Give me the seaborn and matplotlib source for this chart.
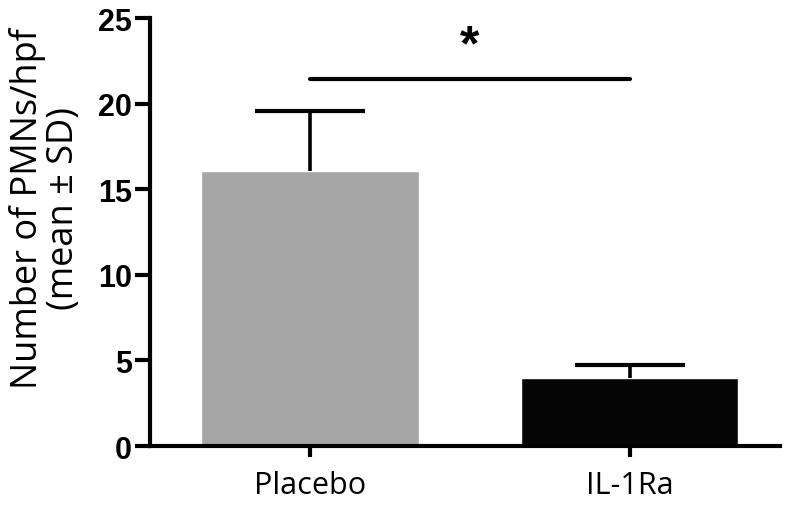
import pandas as pd
import seaborn as sns
import matplotlib.pyplot as plt

# data
groups = ["Placebo", "IL-1Ra"]
means = [16.05, 3.97]
sds = [3.55, 0.77]
bar_colors = ["#a6a6a6", "#050505"]
sig_y = 21.45
sig_label = "*"

df = pd.DataFrame({"group": groups, "mean": means})

sns.set_theme(style="ticks")
plt.rcParams["font.family"] = ["Liberation Sans", "DejaVu Sans"]
plt.rcParams["text.color"] = "black"
plt.rcParams["axes.labelcolor"] = "black"
plt.rcParams["xtick.color"] = "black"
plt.rcParams["ytick.color"] = "black"

fig = plt.figure(figsize=(8, 5.1), dpi=100)
ax = fig.add_axes([0.1875, 0.1235, 0.7875, 0.839])

sns.barplot(data=df, x="group", y="mean", hue="group", palette=bar_colors,
            width=0.68, errorbar=None, legend=False, saturation=1, ax=ax)

# upper SD only
eb = ax.errorbar(range(len(groups)), means, yerr=[[0] * len(sds), sds], fmt="none",
                 ecolor="black", elinewidth=2.6, capsize=39.5, capthick=3)
eb[1][0].set_visible(False)  # drop the lower cap

# significance bar
ax.plot([0, 1], [sig_y, sig_y], color="black", lw=3, solid_capstyle="round")
ax.text(0.5, sig_y + 0.55, sig_label, ha="center", va="bottom",
        fontsize=36, fontweight="bold")

ax.set_ylim(0, 25)
ax.set_xlim(-0.5, 1.47)
ax.set_yticks([0, 5, 10, 15, 20, 25])
ax.set_xlabel("")
ax.set_ylabel("Number of PMNs/hpf\n(mean ± SD)", fontsize=26,
              family=["Open Sans", "DejaVu Sans"], linespacing=1.0)
ax.yaxis.set_label_coords(-0.108, 0.558)

for s in ["top", "right"]:
    ax.spines[s].set_visible(False)
for s in ["left", "bottom"]:
    ax.spines[s].set_linewidth(3)
    ax.spines[s].set_color("black")

ax.tick_params(axis="y", length=11, width=3, labelsize=22, pad=2)
ax.tick_params(axis="x", length=8, width=3, labelsize=22, pad=9)
for lbl in ax.get_yticklabels():
    lbl.set_fontweight("bold")
for lbl in ax.get_xticklabels():
    lbl.set_family(["Open Sans", "DejaVu Sans"])

fig.savefig("out.png", dpi=100)
